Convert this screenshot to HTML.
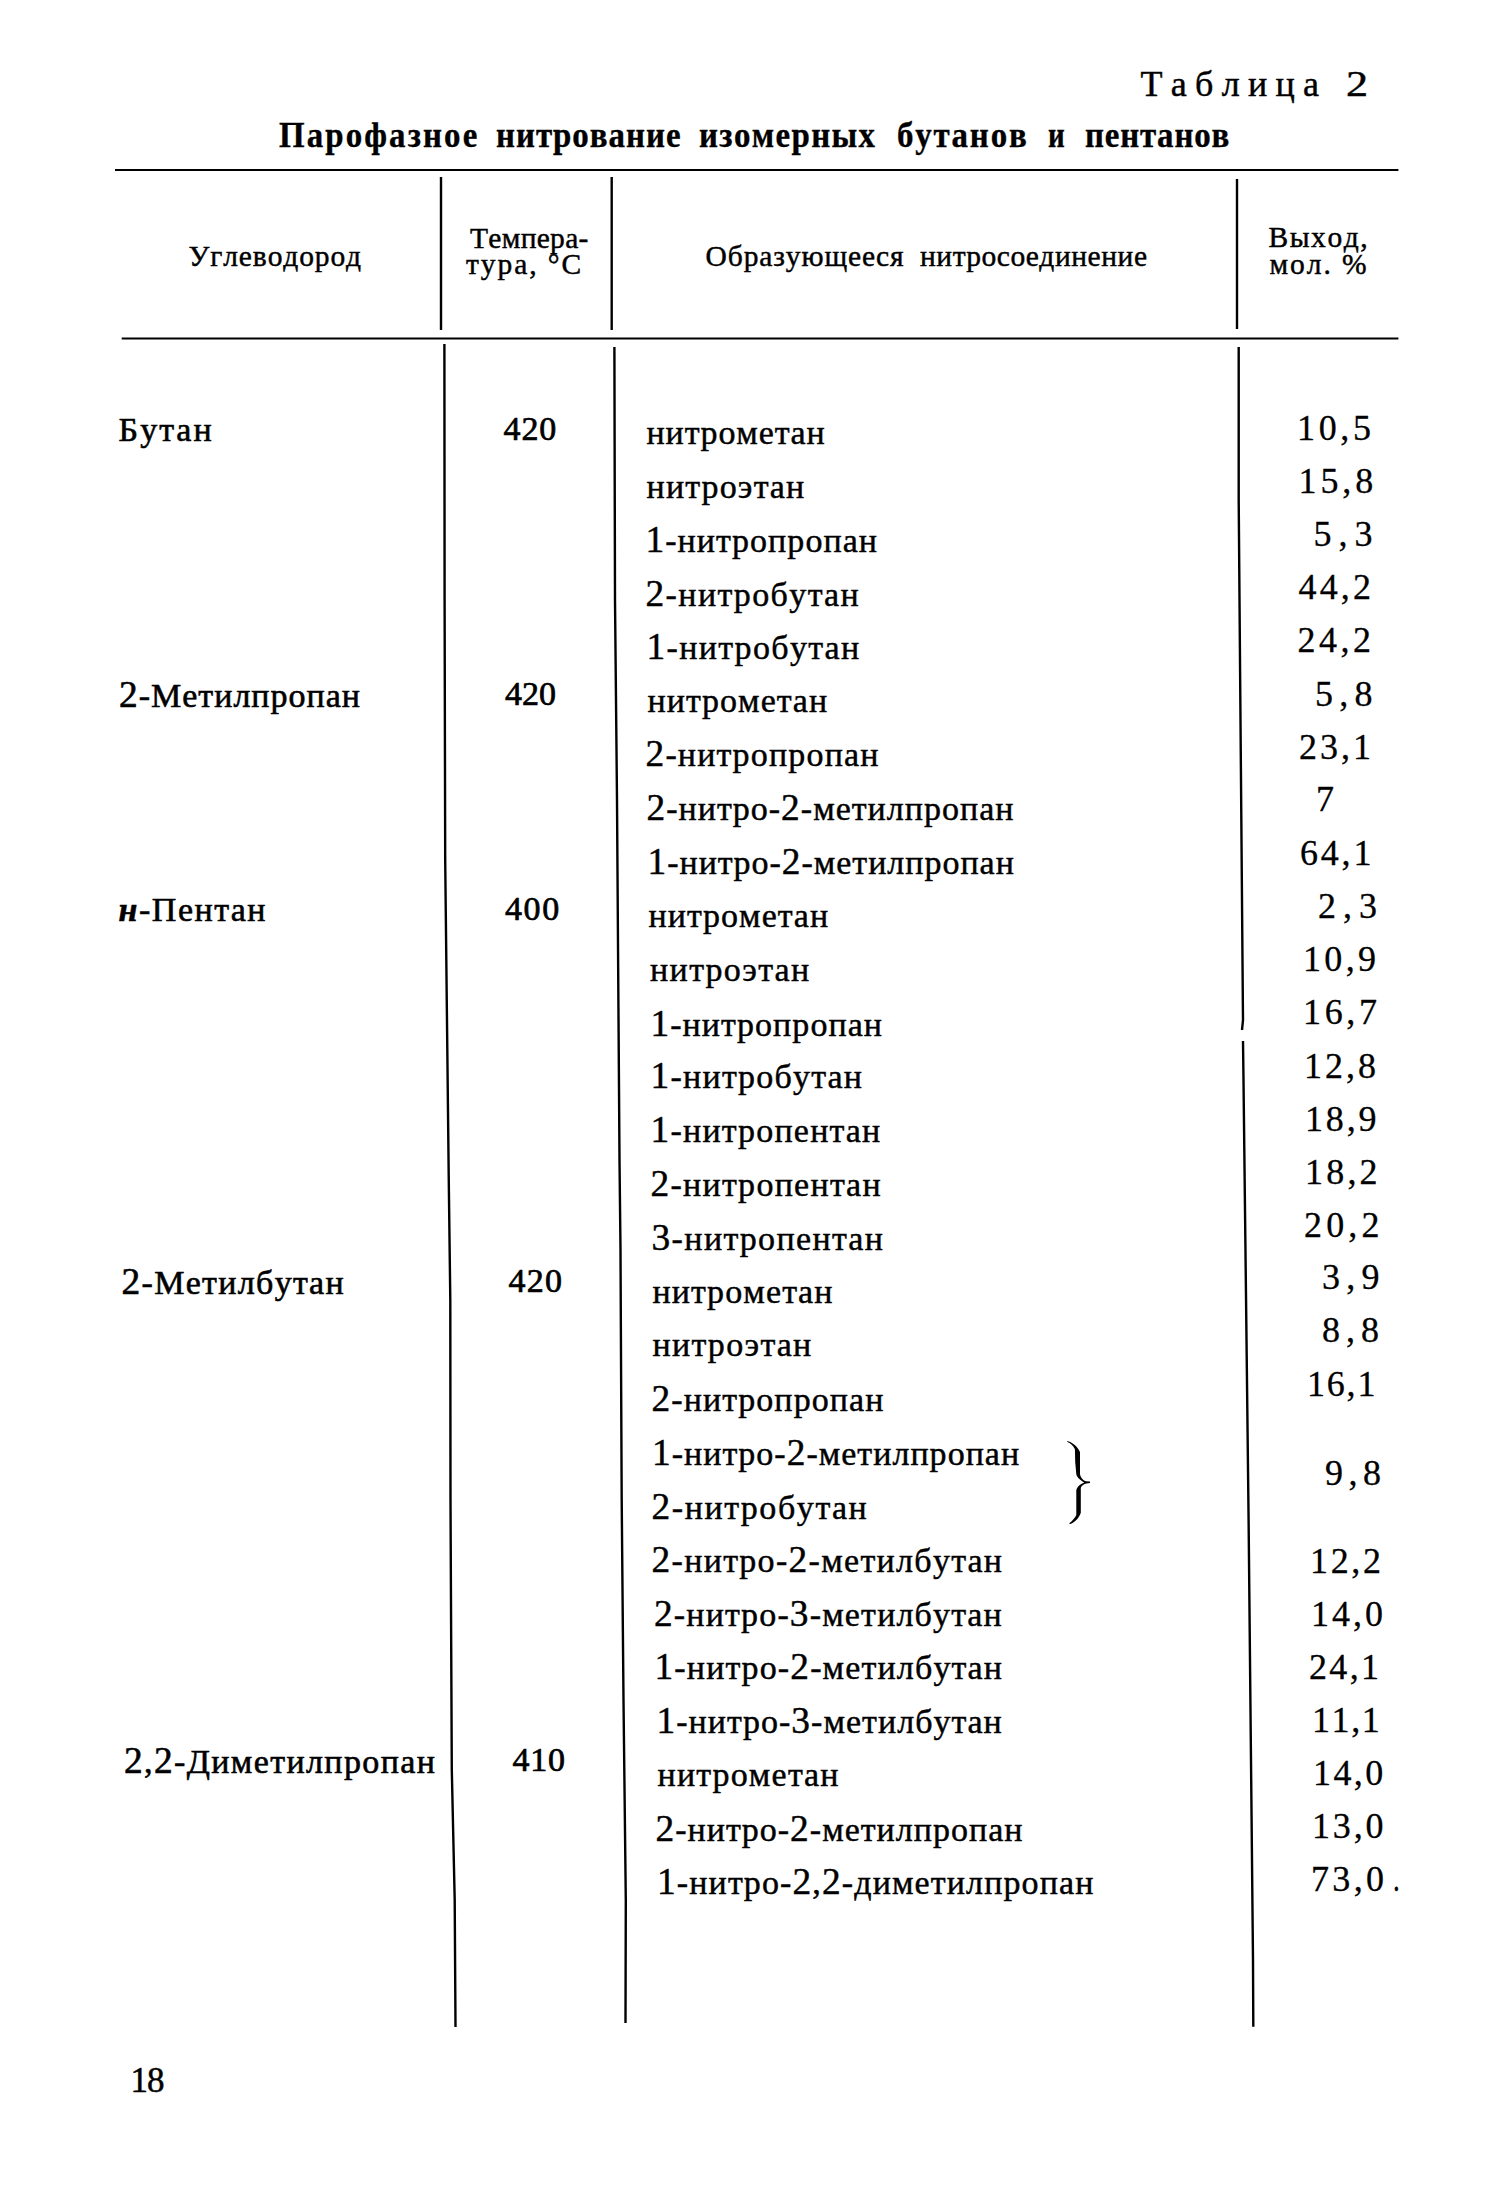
<!DOCTYPE html>
<html lang="ru"><head><meta charset="utf-8"><title>Таблица 2</title>
<style>
html,body{margin:0;padding:0;background:#fff}
body{width:1500px;height:2200px;position:relative;overflow:hidden;color:#000}
.t{position:absolute;white-space:nowrap;line-height:0;font-kerning:none;transform-origin:0 50%}
.s{font-family:"Liberation Serif",serif}
.a{font-family:"Liberation Sans",sans-serif}
.d{font-family:"DejaVu Serif","Liberation Serif",serif}
.ln{position:absolute;left:0;top:0}
.n{font-size:1.1em}
.b{font-weight:700}

</style></head><body>
<svg class="ln" width="1500" height="2200" viewBox="0 0 1500 2200"><rect x="115" y="169" width="1283.4" height="2" fill="#000"/><rect x="121.7" y="337.5" width="1276.7" height="2" fill="#000"/><polyline points="441.0,177.0 441.0,330.0" fill="none" stroke="#000" stroke-width="2.4"/><polyline points="611.7,177.0 611.7,330.0" fill="none" stroke="#000" stroke-width="2.4"/><polyline points="1237.0,179.0 1237.0,329.0" fill="none" stroke="#000" stroke-width="2.4"/><polyline points="444.4,344.0 444.6,600.0 445.2,860.0 448.7,1175.0 450.3,1300.0 450.5,1500.0 451.8,1770.0 454.7,1900.0 455.5,2027.0" fill="none" stroke="#000" stroke-width="2.4"/><polyline points="614.4,347.0 615.0,600.0 617.0,800.0 619.5,1160.0 620.5,1250.0 621.7,1500.0 623.5,1700.0 625.8,1900.0 625.5,2023.0" fill="none" stroke="#000" stroke-width="2.4"/><polyline points="1238.7,347.0 1238.7,500.0 1240.0,660.0 1243.0,1020.0 1242.0,1030.0" fill="none" stroke="#000" stroke-width="2.4"/><polyline points="1243.0,1041.0 1243.5,1080.0 1248.6,1520.0 1253.0,1960.0 1253.3,2026.7" fill="none" stroke="#000" stroke-width="2.4"/><path d="M1066.9,1440.9 C1072,1442 1077.5,1446 1080,1452 L1080,1474 C1080.5,1478 1084,1481 1086,1481.3 L1090,1481.5 L1090,1483 L1086.4,1483.6 C1083,1484.5 1081,1486.5 1080.8,1488 L1080.8,1512.7 C1079,1518 1075,1522 1070.4,1524 L1069,1523.4 C1073,1520.5 1075.5,1517 1076.3,1515 L1076.3,1490.3 C1077,1487 1080,1484 1084.3,1482.5 C1080.5,1480.5 1077,1477.5 1076.3,1474.3 L1075.2,1462 L1074.9,1449.2 C1073.5,1446 1071,1443.5 1067.5,1442 Z" fill="#000"/></svg>
<div class="caption">
<span id="t67" class="t s" style="left:1140.50px;top:83.85px;font-size:36px;letter-spacing:8.300px;-webkit-text-stroke:0.45px #000;">Таблица</span>
<span id="t68" class="t s" style="left:1345.50px;top:83.85px;font-size:36px;letter-spacing:0.000px;-webkit-text-stroke:0.45px #000;transform:scaleX(1.2269);">2</span>
</div>
<div class="title">
<span id="t69" class="t s" style="left:279.00px;top:136.19px;font-size:35px;letter-spacing:2.246px;font-weight:700;-webkit-text-stroke:0.35px #000;transform:scaleX(0.9400);">Парофазное</span>
<span id="t70" class="t s" style="left:495.50px;top:136.19px;font-size:35px;letter-spacing:1.064px;font-weight:700;-webkit-text-stroke:0.35px #000;transform:scaleX(0.9400);">нитрование</span>
<span id="t71" class="t s" style="left:699.00px;top:136.19px;font-size:35px;letter-spacing:1.463px;font-weight:700;-webkit-text-stroke:0.35px #000;transform:scaleX(0.9400);">изомерных</span>
<span id="t72" class="t s" style="left:897.00px;top:136.19px;font-size:35px;letter-spacing:1.950px;font-weight:700;-webkit-text-stroke:0.35px #000;transform:scaleX(0.9400);">бутанов</span>
<span id="t73" class="t s" style="left:1047.50px;top:136.19px;font-size:35px;letter-spacing:0.000px;font-weight:700;-webkit-text-stroke:0.35px #000;transform:scaleX(0.8294);">и</span>
<span id="t74" class="t s" style="left:1085.00px;top:136.19px;font-size:35px;letter-spacing:0.912px;font-weight:700;-webkit-text-stroke:0.35px #000;transform:scaleX(0.9400);">пентанов</span>
</div>
<div class="thead">
<span id="t75" class="t s" style="left:188.50px;top:256.04px;font-size:29.5px;letter-spacing:0.880px;-webkit-text-stroke:0.45px #000;">Углеводород</span>
<span id="t76" class="t s" style="left:470.00px;top:237.64px;font-size:29.5px;letter-spacing:0.286px;-webkit-text-stroke:0.45px #000;">Темпера-</span>
<span id="t77" class="t s" style="left:466.00px;top:264.44px;font-size:29.5px;letter-spacing:1.914px;-webkit-text-stroke:0.45px #000;">тура, °С</span>
<span id="t78" class="t s" style="left:705.50px;top:256.04px;font-size:29.5px;letter-spacing:0.909px;-webkit-text-stroke:0.45px #000;">Образующееся</span>
<span id="t79" class="t s" style="left:920.00px;top:256.04px;font-size:29.5px;letter-spacing:0.557px;-webkit-text-stroke:0.45px #000;">нитросоединение</span>
<span id="t80" class="t s" style="left:1268.50px;top:237.04px;font-size:29.5px;letter-spacing:1.560px;-webkit-text-stroke:0.45px #000;">Выход,</span>
<span id="t81" class="t s" style="left:1269.50px;top:264.04px;font-size:29.5px;letter-spacing:1.920px;-webkit-text-stroke:0.45px #000;">мол. %</span>
</div>
<div class="hydrocarbon">
<span id="t56" class="t s" style="left:118.50px;top:430.22px;font-size:34px;letter-spacing:2.150px;-webkit-text-stroke:0.6px #000;">Бутан</span>
<span id="t57" class="t s" style="left:119.00px;top:695.23px;font-size:34px;letter-spacing:1.000px;-webkit-text-stroke:0.6px #000;"><span class="n">2</span>-Метилпропан</span>
<span id="t58" class="t s" style="left:118.50px;top:910.23px;font-size:34px;letter-spacing:1.543px;-webkit-text-stroke:0.6px #000;"><i class="b">н</i>-Пентан</span>
<span id="t59" class="t s" style="left:121.50px;top:1281.83px;font-size:34px;letter-spacing:1.309px;-webkit-text-stroke:0.6px #000;"><span class="n">2</span>-Метилбутан</span>
<span id="t60" class="t s" style="left:124.00px;top:1761.23px;font-size:34px;letter-spacing:1.375px;-webkit-text-stroke:0.6px #000;"><span class="n">2</span>,<span class="n">2</span>-Диметилпропан</span>
</div>
<div class="temperature">
<span id="t61" class="t s" style="left:503.50px;top:429.22px;font-size:34px;letter-spacing:0.900px;-webkit-text-stroke:0.7px #000;">420</span>
<span id="t62" class="t s" style="left:505.00px;top:693.52px;font-size:34px;letter-spacing:0.000px;-webkit-text-stroke:0.7px #000;">420</span>
<span id="t63" class="t s" style="left:505.00px;top:908.52px;font-size:34px;letter-spacing:1.600px;-webkit-text-stroke:0.7px #000;">400</span>
<span id="t64" class="t s" style="left:508.50px;top:1281.23px;font-size:34px;letter-spacing:1.300px;-webkit-text-stroke:0.7px #000;">420</span>
<span id="t65" class="t s" style="left:512.50px;top:1760.23px;font-size:34px;letter-spacing:0.700px;-webkit-text-stroke:0.7px #000;">410</span>
</div>
<div class="compound">
<span id="t0" class="t s" style="left:646.50px;top:432.82px;font-size:34px;letter-spacing:0.911px;-webkit-text-stroke:0.45px #000;">нитрометан</span>
<span id="t1" class="t s" style="left:646.50px;top:486.82px;font-size:34px;letter-spacing:1.225px;-webkit-text-stroke:0.45px #000;">нитроэтан</span>
<span id="t2" class="t s" style="left:645.50px;top:540.23px;font-size:34px;letter-spacing:1.050px;-webkit-text-stroke:0.45px #000;"><span class="n">1</span>-нитропропан</span>
<span id="t3" class="t s" style="left:645.50px;top:593.52px;font-size:34px;letter-spacing:1.400px;-webkit-text-stroke:0.45px #000;"><span class="n">2</span>-нитробутан</span>
<span id="t4" class="t s" style="left:646.50px;top:646.82px;font-size:34px;letter-spacing:1.364px;-webkit-text-stroke:0.45px #000;"><span class="n">1</span>-нитробутан</span>
<span id="t5" class="t s" style="left:647.50px;top:701.23px;font-size:34px;letter-spacing:1.067px;-webkit-text-stroke:0.45px #000;">нитрометан</span>
<span id="t6" class="t s" style="left:645.50px;top:753.52px;font-size:34px;letter-spacing:1.167px;-webkit-text-stroke:0.45px #000;"><span class="n">2</span>-нитропропан</span>
<span id="t7" class="t s" style="left:646.50px;top:807.82px;font-size:34px;letter-spacing:1.000px;-webkit-text-stroke:0.45px #000;"><span class="n">2</span>-нитро-<span class="n">2</span>-метилпропан</span>
<span id="t8" class="t s" style="left:647.50px;top:861.82px;font-size:34px;letter-spacing:0.970px;-webkit-text-stroke:0.45px #000;"><span class="n">1</span>-нитро-<span class="n">2</span>-метилпропан</span>
<span id="t9" class="t s" style="left:648.50px;top:916.23px;font-size:34px;letter-spacing:1.067px;-webkit-text-stroke:0.45px #000;">нитрометан</span>
<span id="t10" class="t s" style="left:650.00px;top:969.52px;font-size:34px;letter-spacing:1.400px;-webkit-text-stroke:0.45px #000;">нитроэтан</span>
<span id="t11" class="t s" style="left:650.50px;top:1023.52px;font-size:34px;letter-spacing:1.050px;-webkit-text-stroke:0.45px #000;"><span class="n">1</span>-нитропропан</span>
<span id="t12" class="t s" style="left:650.50px;top:1076.23px;font-size:34px;letter-spacing:1.255px;-webkit-text-stroke:0.45px #000;"><span class="n">1</span>-нитробутан</span>
<span id="t13" class="t s" style="left:650.50px;top:1130.23px;font-size:34px;letter-spacing:1.233px;-webkit-text-stroke:0.45px #000;"><span class="n">1</span>-нитропентан</span>
<span id="t14" class="t s" style="left:650.50px;top:1183.53px;font-size:34px;letter-spacing:1.267px;-webkit-text-stroke:0.45px #000;"><span class="n">2</span>-нитропентан</span>
<span id="t15" class="t s" style="left:651.50px;top:1237.83px;font-size:34px;letter-spacing:1.383px;-webkit-text-stroke:0.45px #000;"><span class="n">3</span>-нитропентан</span>
<span id="t16" class="t s" style="left:652.50px;top:1291.83px;font-size:34px;letter-spacing:1.111px;-webkit-text-stroke:0.45px #000;">нитрометан</span>
<span id="t17" class="t s" style="left:652.50px;top:1345.23px;font-size:34px;letter-spacing:1.350px;-webkit-text-stroke:0.45px #000;">нитроэтан</span>
<span id="t18" class="t s" style="left:651.50px;top:1399.23px;font-size:34px;letter-spacing:1.083px;-webkit-text-stroke:0.45px #000;"><span class="n">2</span>-нитропропан</span>
<span id="t19" class="t s" style="left:652.00px;top:1452.53px;font-size:34px;letter-spacing:1.010px;-webkit-text-stroke:0.45px #000;"><span class="n">1</span>-нитро-<span class="n">2</span>-метилпропан</span>
<span id="t20" class="t s" style="left:651.50px;top:1506.83px;font-size:34px;letter-spacing:1.600px;-webkit-text-stroke:0.45px #000;"><span class="n">2</span>-нитробутан</span>
<span id="t21" class="t s" style="left:651.50px;top:1560.23px;font-size:34px;letter-spacing:1.305px;-webkit-text-stroke:0.45px #000;"><span class="n">2</span>-нитро-<span class="n">2</span>-метилбутан</span>
<span id="t22" class="t s" style="left:654.00px;top:1613.53px;font-size:34px;letter-spacing:1.158px;-webkit-text-stroke:0.45px #000;"><span class="n">2</span>-нитро-<span class="n">3</span>-метилбутан</span>
<span id="t23" class="t s" style="left:654.50px;top:1666.83px;font-size:34px;letter-spacing:1.147px;-webkit-text-stroke:0.45px #000;"><span class="n">1</span>-нитро-<span class="n">2</span>-метилбутан</span>
<span id="t24" class="t s" style="left:656.50px;top:1721.23px;font-size:34px;letter-spacing:1.032px;-webkit-text-stroke:0.45px #000;"><span class="n">1</span>-нитро-<span class="n">3</span>-метилбутан</span>
<span id="t25" class="t s" style="left:657.50px;top:1775.23px;font-size:34px;letter-spacing:1.222px;-webkit-text-stroke:0.45px #000;">нитрометан</span>
<span id="t26" class="t s" style="left:655.50px;top:1828.53px;font-size:34px;letter-spacing:1.000px;-webkit-text-stroke:0.45px #000;"><span class="n">2</span>-нитро-<span class="n">2</span>-метилпропан</span>
<span id="t27" class="t s" style="left:657.00px;top:1881.83px;font-size:34px;letter-spacing:1.117px;-webkit-text-stroke:0.45px #000;"><span class="n">1</span>-нитро-<span class="n">2</span>,<span class="n">2</span>-диметилпропан</span>
</div>
<div class="yield">
<span id="t28" class="t s" style="left:1297.00px;top:427.85px;font-size:36px;letter-spacing:3.667px;-webkit-text-stroke:0.3px #000;">10,5</span>
<span id="t29" class="t s" style="left:1298.50px;top:481.15px;font-size:36px;letter-spacing:3.933px;-webkit-text-stroke:0.3px #000;">15,8</span>
<span id="t30" class="t s" style="left:1313.50px;top:533.85px;font-size:36px;letter-spacing:7.000px;-webkit-text-stroke:0.3px #000;">5,3</span>
<span id="t31" class="t s" style="left:1298.50px;top:587.35px;font-size:36px;letter-spacing:3.133px;-webkit-text-stroke:0.3px #000;">44,2</span>
<span id="t32" class="t s" style="left:1297.50px;top:640.35px;font-size:36px;letter-spacing:3.467px;-webkit-text-stroke:0.3px #000;">24,2</span>
<span id="t33" class="t s" style="left:1315.00px;top:693.85px;font-size:36px;letter-spacing:6.200px;-webkit-text-stroke:0.3px #000;">5,8</span>
<span id="t34" class="t s" style="left:1299.00px;top:746.85px;font-size:36px;letter-spacing:3.000px;-webkit-text-stroke:0.3px #000;">23,1</span>
<span id="t35" class="t s" style="left:1316.00px;top:799.25px;font-size:36px;letter-spacing:0.000px;-webkit-text-stroke:0.3px #000;">7</span>
<span id="t36" class="t s" style="left:1300.00px;top:852.85px;font-size:36px;letter-spacing:2.800px;-webkit-text-stroke:0.3px #000;">64,1</span>
<span id="t37" class="t s" style="left:1318.00px;top:905.85px;font-size:36px;letter-spacing:7.000px;-webkit-text-stroke:0.3px #000;">2,3</span>
<span id="t38" class="t s" style="left:1303.00px;top:959.25px;font-size:36px;letter-spacing:3.333px;-webkit-text-stroke:0.3px #000;">10,9</span>
<span id="t39" class="t s" style="left:1303.00px;top:1011.85px;font-size:36px;letter-spacing:3.667px;-webkit-text-stroke:0.3px #000;">16,7</span>
<span id="t40" class="t s" style="left:1304.00px;top:1065.85px;font-size:36px;letter-spacing:3.000px;-webkit-text-stroke:0.3px #000;">12,8</span>
<span id="t41" class="t s" style="left:1305.00px;top:1118.85px;font-size:36px;letter-spacing:2.867px;-webkit-text-stroke:0.3px #000;">18,9</span>
<span id="t42" class="t s" style="left:1305.00px;top:1171.85px;font-size:36px;letter-spacing:3.200px;-webkit-text-stroke:0.3px #000;">18,2</span>
<span id="t43" class="t s" style="left:1304.00px;top:1224.85px;font-size:36px;letter-spacing:4.133px;-webkit-text-stroke:0.3px #000;">20,2</span>
<span id="t44" class="t s" style="left:1322.00px;top:1276.85px;font-size:36px;letter-spacing:6.200px;-webkit-text-stroke:0.3px #000;">3,9</span>
<span id="t45" class="t s" style="left:1322.00px;top:1329.85px;font-size:36px;letter-spacing:6.000px;-webkit-text-stroke:0.3px #000;">8,8</span>
<span id="t46" class="t s" style="left:1307.00px;top:1383.85px;font-size:36px;letter-spacing:1.800px;-webkit-text-stroke:0.3px #000;">16,1</span>
<span id="t47" class="t s" style="left:1325.00px;top:1472.85px;font-size:36px;letter-spacing:5.500px;-webkit-text-stroke:0.3px #000;">9,8</span>
<span id="t48" class="t s" style="left:1310.00px;top:1560.85px;font-size:36px;letter-spacing:2.667px;-webkit-text-stroke:0.3px #000;">12,2</span>
<span id="t49" class="t s" style="left:1311.00px;top:1613.85px;font-size:36px;letter-spacing:3.000px;-webkit-text-stroke:0.3px #000;">14,0</span>
<span id="t50" class="t s" style="left:1309.00px;top:1666.85px;font-size:36px;letter-spacing:2.333px;-webkit-text-stroke:0.3px #000;">24,1</span>
<span id="t51" class="t s" style="left:1312.00px;top:1719.85px;font-size:36px;letter-spacing:1.600px;-webkit-text-stroke:0.3px #000;">11,1</span>
<span id="t52" class="t s" style="left:1313.00px;top:1772.85px;font-size:36px;letter-spacing:2.400px;-webkit-text-stroke:0.3px #000;">14,0</span>
<span id="t53" class="t s" style="left:1312.00px;top:1825.85px;font-size:36px;letter-spacing:2.867px;-webkit-text-stroke:0.3px #000;">13,0</span>
<span id="t54" class="t s" style="left:1311.00px;top:1879.45px;font-size:36px;letter-spacing:3.333px;-webkit-text-stroke:0.3px #000;">73,0</span>
<span id="t55" class="t s" style="left:1392.50px;top:1879.45px;font-size:36px;letter-spacing:0.000px;-webkit-text-stroke:0.3px #000;transform:scaleX(0.7500);">.</span>
</div>
<div class="folio">
<span id="t66" class="t s" style="left:130.50px;top:2081.49px;font-size:35px;letter-spacing:-1.000px;-webkit-text-stroke:0.5px #000;">18</span>
</div>
</body></html>
